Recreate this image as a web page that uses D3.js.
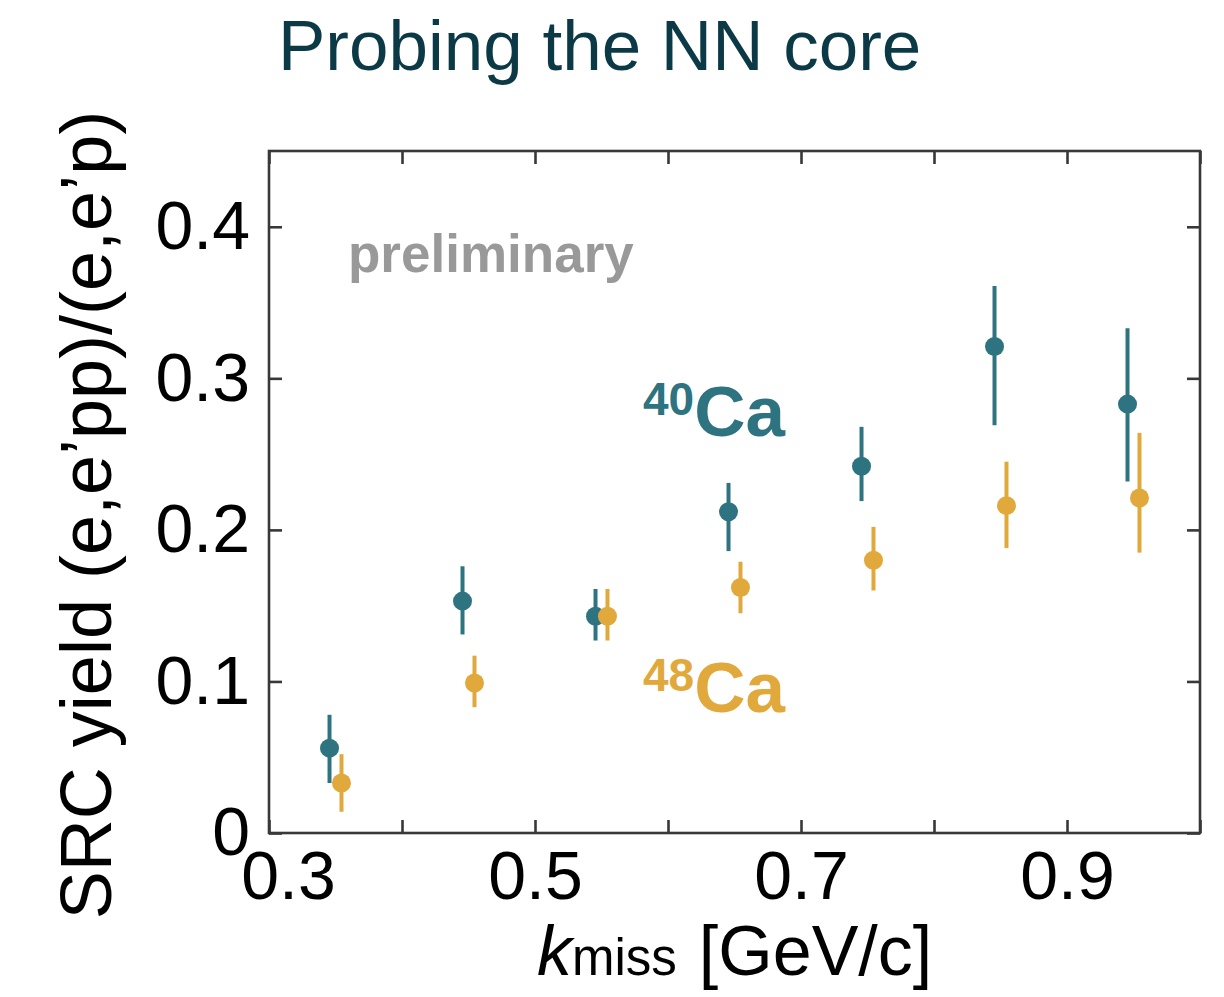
<!DOCTYPE html>
<meta charset="utf-8">
<style>
body { margin: 0; background: #fff; }
svg text { font-family: "Liberation Sans", Arial, sans-serif; }
.frame { fill: none; stroke: #383838; stroke-width: 2.6px; }
.axis path { display: none; }
.axis line { stroke: #383838; stroke-width: 2.6px; }
.axis text { font-size: 68px; fill: #000; }
</style>
<svg width="1224" height="997"></svg>
<script src="https://cdnjs.cloudflare.com/ajax/libs/d3/7.8.5/d3.min.js"></script>
<script>

// bin centres in k_miss [GeV/c]
var kmiss = [0.35, 0.45, 0.55, 0.65, 0.75, 0.85, 0.95];

// 40Ca: value, upper and lower end of error bar
var ca40 = [0.056, 0.153, 0.143, 0.212, 0.242, 0.321, 0.283];
var ca40Hi = [0.078, 0.176, 0.161, 0.231, 0.268, 0.361, 0.333];
var ca40Lo = [0.033, 0.131, 0.127, 0.186, 0.219, 0.269, 0.232];

// 48Ca
var ca48 = [0.033, 0.099, 0.143, 0.162, 0.180, 0.216, 0.221];
var ca48Hi = [0.052, 0.117, 0.161, 0.179, 0.202, 0.245, 0.264];
var ca48Lo = [0.014, 0.083, 0.127, 0.145, 0.160, 0.188, 0.185];

var xTicks = [0.3, 0.4, 0.5, 0.6, 0.7, 0.8, 0.9, 1.0];
var xLabels = ["0.3", "", "0.5", "", "0.7", "", "0.9", ""];
var yTicks = [0, 0.1, 0.2, 0.3, 0.4];
var yLabels = ["0", "0.1", "0.2", "0.3", "0.4"];

var teal = "#2e7380",
    gold = "#e1a93b";

var svg = d3.select("svg"),
    margin = {top: 151, right: 24, bottom: 164, left: 269},
    width = +svg.attr("width") - margin.left - margin.right,
    height = +svg.attr("height") - margin.top - margin.bottom;

var x = d3.scaleLinear().domain([0.3, 1.0]).range([0, width]),
    y = d3.scaleLinear().domain([0, 0.45]).range([height, 0]);

var g = svg.append("g")
    .attr("transform", "translate(" + margin.left + "," + margin.top + ")");

// title
svg.append("text")
    .attr("x", 278)
    .attr("y", 70)
    .style("font-size", "71px")
    .style("fill", "#0b3a46")
    .text("Probing the NN core");

// axes, ticks pointing inward on all four sides
g.append("g")
    .attr("class", "axis x")
    .attr("transform", "translate(0," + height + ")")
    .call(d3.axisBottom(x).tickValues(xTicks).tickSize(-13).tickPadding(18)
      .tickFormat(function(d, i) { return xLabels[i]; }))
  .selectAll("text")
    .attr("dx", function(d, i) { return i === 0 ? 19 : 0; });

g.append("g")
    .attr("class", "axis")
    .call(d3.axisTop(x).tickValues(xTicks).tickSize(-13).tickFormat(""));

g.append("g")
    .attr("class", "axis y")
    .call(d3.axisLeft(y).tickValues(yTicks).tickSize(-13).tickPadding(19)
      .tickFormat(function(d, i) { return yLabels[i]; }));

g.append("g")
    .attr("class", "axis")
    .attr("transform", "translate(" + width + ",0)")
    .call(d3.axisRight(y).tickValues(yTicks).tickSize(-13).tickFormat(""));

g.append("rect")
    .attr("class", "frame")
    .attr("width", width)
    .attr("height", height);

// axis titles
svg.append("text")
    .attr("transform", "translate(111," + 515 + ") rotate(-90)")
    .attr("text-anchor", "middle")
    .style("font-size", "72px")
    .text("SRC yield (e,e\u2019pp)/(e,e\u2019p)");

var xt = svg.append("text")
    .attr("x", 537)
    .attr("y", 975)
    .style("font-size", "70px");
xt.append("tspan").style("font-style", "italic").text("k");
xt.append("tspan").style("font-size", "51px").text("miss");
xt.append("tspan").attr("dx", 22).text("[GeV/c]");

// annotations
g.append("text")
    .attr("x", 348 - margin.left)
    .attr("y", 272 - margin.top)
    .style("font-size", "53px")
    .style("font-weight", "bold")
    .style("fill", "#999")
    .text("preliminary");

function label(txt, sup, col, xp, yp) {
  var t = svg.append("text")
      .attr("x", xp)
      .attr("y", yp)
      .style("font-weight", "bold")
      .style("fill", col);
  t.append("tspan").style("font-size", "46px").attr("dy", -21).text(sup);
  t.append("tspan").style("font-size", "71px").attr("dy", 21).text(txt);
}
label("Ca", "40", teal, 643, 436);
label("Ca", "48", gold, 643, 712);

// data points with error bars
function series(vals, hi, lo, col, shift) {
  var data = kmiss.map(function(k, i) {
    return {k: k + shift, v: vals[i], hi: hi[i], lo: lo[i]};
  });
  var s = g.append("g");
  s.selectAll("line")
    .data(data)
    .enter().append("line")
      .attr("x1", function(d) { return x(d.k); })
      .attr("x2", function(d) { return x(d.k); })
      .attr("y1", function(d) { return y(d.hi); })
      .attr("y2", function(d) { return y(d.lo); })
      .style("stroke", col)
      .style("stroke-width", 4);
  s.selectAll("circle")
    .data(data)
    .enter().append("circle")
      .attr("cx", function(d) { return x(d.k); })
      .attr("cy", function(d) { return y(d.v); })
      .attr("r", 9.5)
      .style("fill", col);
}
series(ca40, ca40Hi, ca40Lo, teal, -0.0045);
series(ca48, ca48Hi, ca48Lo, gold, 0.0045);

</script>
